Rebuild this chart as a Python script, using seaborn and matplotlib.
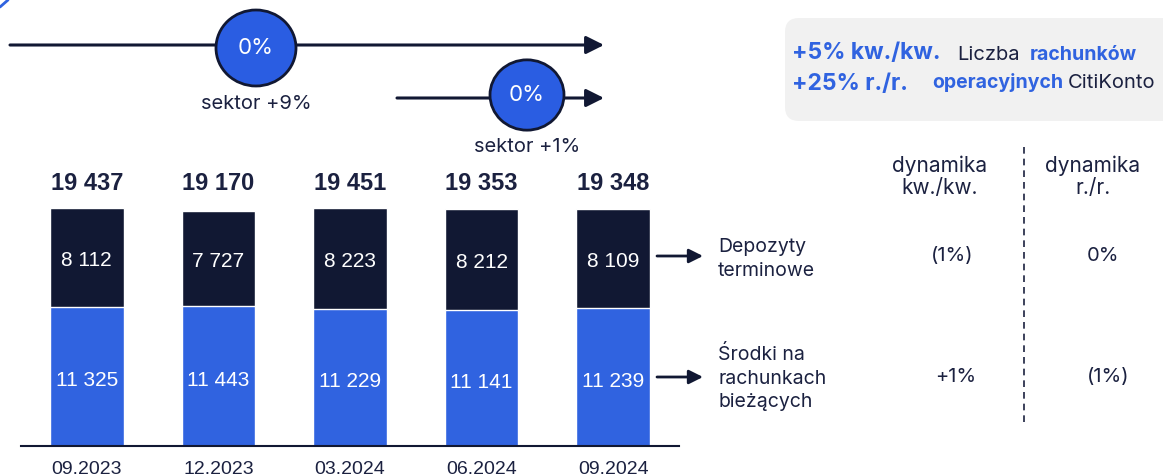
import numpy as np
import pandas as pd
import matplotlib
matplotlib.use("Agg")
import matplotlib.pyplot as plt
from matplotlib.patches import Ellipse, FancyBboxPatch
import seaborn as sns

# data
quarters = ["09.2023", "12.2023", "03.2024", "06.2024", "09.2024"]
terminowe = [8112, 7727, 8223, 8212, 8109]
biezace = [11325, 11443, 11229, 11141, 11239]
totals = [19437, 19170, 19451, 19353, 19348]

row_labels = ["Depozyty\nterminowe", "Środki na\nrachunkach\nbieżących"]
dyn_qq = ["(1%)", "+1%"]
dyn_yy = ["0%", "(1%)"]

DARK = "#111833"
BLUE = "#3063E0"
CIRCLE = "#2A5DE2"
TXT = "#1B2140"

sns.set_theme(style="white")
plt.rcParams['font.family'] = ['Liberation Sans', 'DejaVu Sans']
arial = ['Liberation Sans', 'DejaVu Sans']
font2 = ['Inter', 'DejaVu Sans']

W, H = 1163, 476
fig = plt.figure(figsize=(W / 100, H / 100), dpi=100)

# bar axes, placed in pixel terms
left, right = 21, 679
base, ymax = 446, 24000
px_per_unit = 238 / 19437
ax_h = ymax * px_per_unit
ax = fig.add_axes([left / W, (H - base) / H, (right - left) / W, ax_h / H])

df = pd.DataFrame({"kwartal": quarters, "terminowe": terminowe,
                   "biezace": biezace, "total": totals})
sns.barplot(data=df, x="kwartal", y="total", color=DARK, width=0.56,
            saturation=1, ax=ax)
sns.barplot(data=df, x="kwartal", y="biezace", color=BLUE, width=0.56,
            saturation=1, ax=ax)
ax.set_ylim(0, ymax)
ax.set_xlim(-0.5, 4.5)
ax.set_xlabel("")
ax.set_ylabel("")
ax.set_yticks([])
ax.tick_params(axis="x", length=0, labelsize=14, colors=TXT, pad=11)
for lab in ax.get_xticklabels():
    lab.set_family(arial)
for s in ["top", "right", "left"]:
    ax.spines[s].set_visible(False)
ax.spines["bottom"].set_color(DARK)
ax.spines["bottom"].set_linewidth(1.5)

top_label_y = max(totals) + 1950
for i in range(len(quarters)):
    ax.text(i, top_label_y, f"{totals[i]:,}".replace(",", " "),
            ha="center", va="center", fontsize=17, fontweight="bold",
            color=TXT, family=arial)
    ax.text(i, biezace[i] + (totals[i] - biezace[i]) / 2 - 250,
            f"{terminowe[i]:,}".replace(",", " "),
            ha="center", va="center", fontsize=15, color="white", family=arial)
    ax.text(i, biezace[i] / 2 - 350, f"{biezace[i]:,}".replace(",", " "),
            ha="center", va="center", fontsize=15, color="white", family=arial)

# overlay in pixel coordinates
ov = fig.add_axes([0, 0, 1, 1], facecolor="none")
ov.set_xlim(0, W)
ov.set_ylim(H, 0)
ov.axis("off")

# small blue stroke in the corner
ov.plot([0, 8], [7, 0], color=BLUE, lw=2)


# top timelines with circles
def timeline(x0, x1, y, cx, cy, r, label, ly):
    ov.annotate("", xy=(x1 + 14, y), xytext=(x0, y),
                arrowprops=dict(arrowstyle="-|>,head_length=0.9,head_width=0.45",
                                color=DARK, lw=2.2, shrinkA=0, shrinkB=0))
    ov.add_patch(Ellipse((cx, cy), 2 * r, 2 * r * 0.95, facecolor=CIRCLE,
                         edgecolor=DARK, lw=2, zorder=3))
    ov.text(cx, cy, "0%", ha="center", va="center", color="white",
            fontsize=16, family=font2, zorder=4)
    ov.text(cx, ly, label, ha="center", va="center", color=TXT,
            fontsize=14.5, family=font2)


timeline(10, 590, 45, 256, 48, 40, "sektor +9%", 104)
timeline(397, 590, 98, 527, 95, 37, "sektor +1%", 147)

# grey box
ov.add_patch(FancyBboxPatch((785, 18), 400, 103,
                            boxstyle="round,pad=0,rounding_size=14",
                            facecolor="#F1F1F1", edgecolor="none"))
ov.text(792, 53, "+5% kw./kw.", color=BLUE, fontsize=16.5, fontweight="bold",
        family=font2, va="center")
ov.text(792, 84, "+25% r./r.", color=BLUE, fontsize=16.5, fontweight="bold",
        family=font2, va="center")
ov.text(957, 55, "Liczba", color=TXT, fontsize=14.5, family=font2, va="center")
ov.text(1030, 55, "rachunków", color=BLUE, fontsize=14, fontweight="bold",
        family=font2, va="center")
ov.text(932, 83, "operacyjnych", color=BLUE, fontsize=14, fontweight="bold",
        family=font2, va="center")
ov.text(1068, 83, "CitiKonto", color=TXT, fontsize=14.5, family=font2, va="center")

# right table
ov.text(940, 177, "dynamika\nkw./kw.", ha="center", va="center", color=TXT,
        fontsize=15, family=font2, linespacing=1.15)
ov.text(1093, 177, "dynamika\nr./r.", ha="center", va="center", color=TXT,
        fontsize=15, family=font2, linespacing=1.15)
ov.plot([1024, 1024], [147, 423], color=TXT, lw=1.2, ls=(0, (4, 3)))

row_y = [256, 377]
label_y = [259, 378]
for k in range(2):
    ov.annotate("", xy=(703, row_y[k]), xytext=(657, row_y[k]),
                arrowprops=dict(arrowstyle="-|>,head_length=0.7,head_width=0.35",
                                color=DARK, lw=2, shrinkA=0, shrinkB=0))
    ov.text(718, label_y[k], row_labels[k], ha="left", va="center", color=TXT,
            fontsize=14, family=font2, linespacing=1.38)
    ov.text(952 if k == 0 else 956, row_y[k], dyn_qq[k], ha="center", va="center",
            color=TXT, fontsize=14.5, family=font2)
    ov.text(1103 if k == 0 else 1108, row_y[k], dyn_yy[k], ha="center", va="center",
            color=TXT, fontsize=14.5, family=font2)

fig.savefig("out.png", dpi=100)
